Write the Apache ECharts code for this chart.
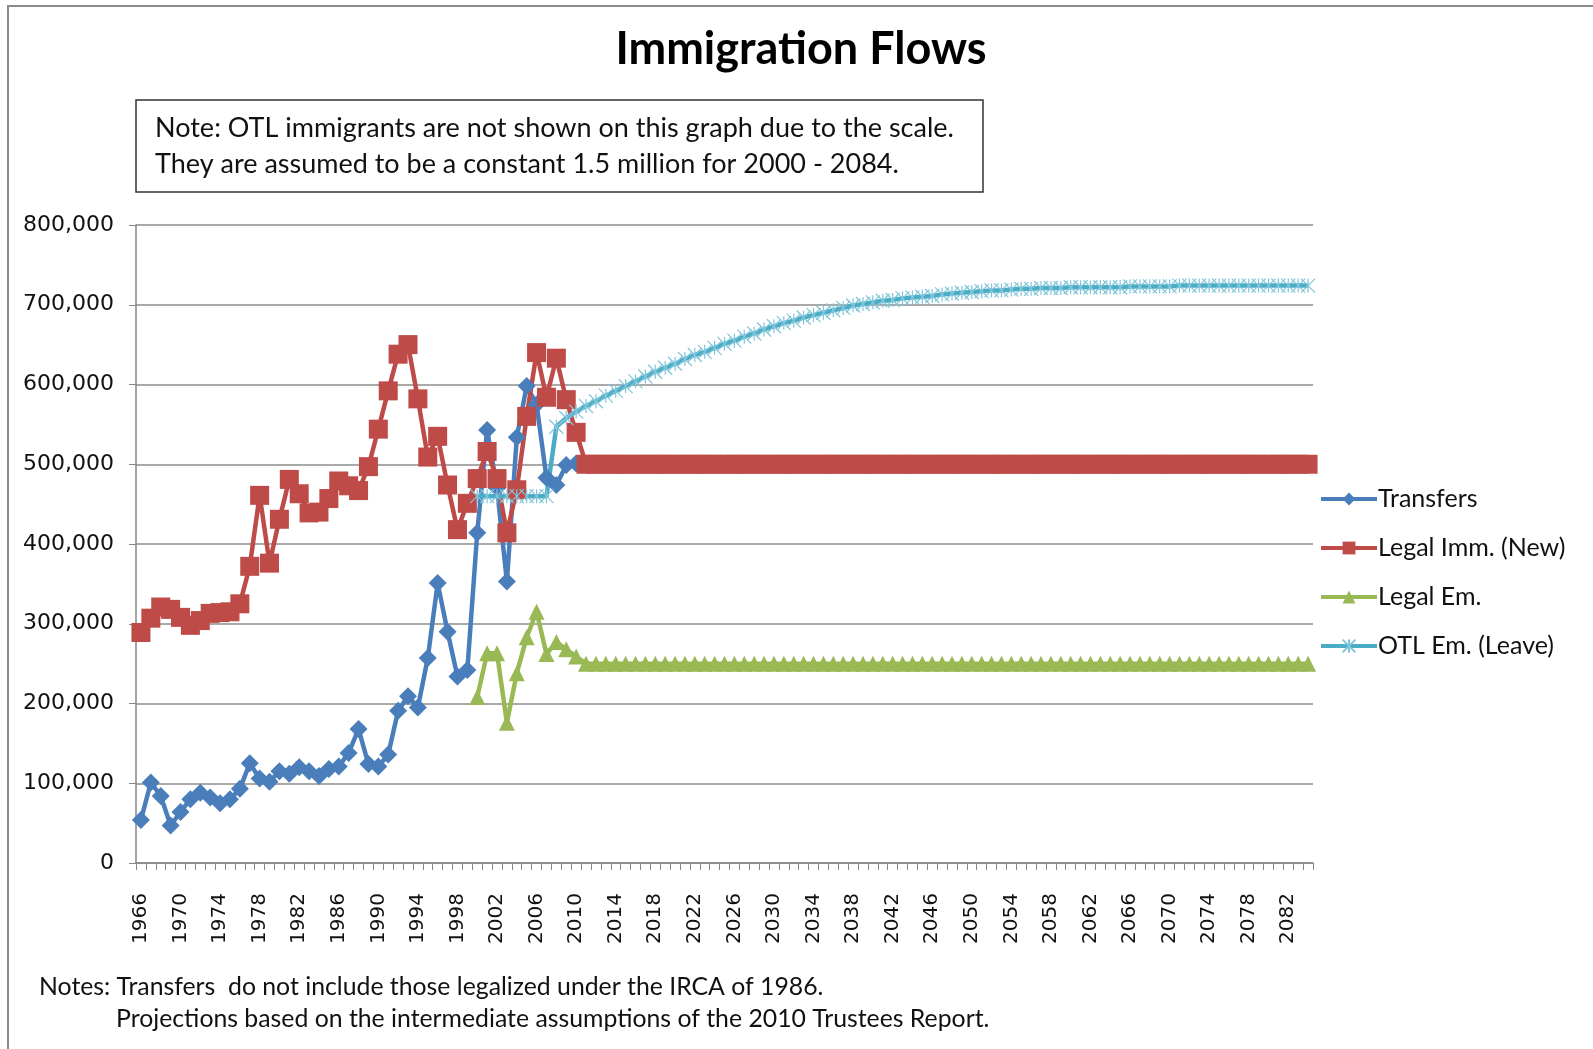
<!DOCTYPE html>
<html>
<head>
<meta charset="utf-8">
<title>Immigration Flows</title>
<script src="https://cdn.jsdelivr.net/npm/echarts@6/dist/echarts.min.js"></script>
<style>
  html, body { margin: 0; padding: 0; background: #fff; }
  #chart { width: 1593px; height: 1049px; }
</style>
</head>
<body>
<div id="chart"></div>
<script>
// years on the category axis
const years = [
  '1966','1967','1968','1969','1970','1971','1972','1973','1974','1975',
  '1976','1977','1978','1979','1980','1981','1982','1983','1984','1985',
  '1986','1987','1988','1989','1990','1991','1992','1993','1994','1995',
  '1996','1997','1998','1999','2000','2001','2002','2003','2004','2005',
  '2006','2007','2008','2009','2010','2011','2012','2013','2014','2015',
  '2016','2017','2018','2019','2020','2021','2022','2023','2024','2025',
  '2026','2027','2028','2029','2030','2031','2032','2033','2034','2035',
  '2036','2037','2038','2039','2040','2041','2042','2043','2044','2045',
  '2046','2047','2048','2049','2050','2051','2052','2053','2054','2055',
  '2056','2057','2058','2059','2060','2061','2062','2063','2064','2065',
  '2066','2067','2068','2069','2070','2071','2072','2073','2074','2075',
  '2076','2077','2078','2079','2080','2081','2082','2083','2084'
]

// Transfers, 1966 - 2010
const transfers = [
  54000, 101000, 84000, 47000, 64000, 80000, 88000, 82000, 75000, 80000,
  93000, 125000, 106000, 102000, 115000, 112000, 120000, 115000, 109000, 118000,
  121000, 138000, 168000, 124000, 121000, 136000, 191000, 209000, 195000, 257000,
  351000, 290000, 234000, 242000, 414000, 543000, 470000, 353000, 534000, 598000,
  575000, 483000, 474000, 499000, 501000
]

// Legal Imm. (New), 1966 - 2084
const legalImm = [
  289000, 307000, 321000, 318000, 308000, 298000, 304000, 313000, 314000, 315000,
  325000, 372000, 461000, 376000, 431000, 481000, 463000, 439000, 440000, 457000,
  479000, 473000, 467000, 497000, 544000, 592000, 638000, 650000, 582000, 509000,
  535000, 474000, 418000, 451000, 482000, 516000, 482000, 414000, 468000, 560000,
  640000, 584000, 633000, 581000, 540000, 500000, 500000, 500000, 500000, 500000,
  500000, 500000, 500000, 500000, 500000, 500000, 500000, 500000, 500000, 500000,
  500000, 500000, 500000, 500000, 500000, 500000, 500000, 500000, 500000, 500000,
  500000, 500000, 500000, 500000, 500000, 500000, 500000, 500000, 500000, 500000,
  500000, 500000, 500000, 500000, 500000, 500000, 500000, 500000, 500000, 500000,
  500000, 500000, 500000, 500000, 500000, 500000, 500000, 500000, 500000, 500000,
  500000, 500000, 500000, 500000, 500000, 500000, 500000, 500000, 500000, 500000,
  500000, 500000, 500000, 500000, 500000, 500000, 500000, 500000, 500000
]

// Legal Em., 2000 - 2084
const legalEm = [
  208000, 263000, 263000, 176000, 238000, 283000, 315000, 262000, 277000, 268000,
  259000, 250000, 250000, 250000, 250000, 250000, 250000, 250000, 250000, 250000,
  250000, 250000, 250000, 250000, 250000, 250000, 250000, 250000, 250000, 250000,
  250000, 250000, 250000, 250000, 250000, 250000, 250000, 250000, 250000, 250000,
  250000, 250000, 250000, 250000, 250000, 250000, 250000, 250000, 250000, 250000,
  250000, 250000, 250000, 250000, 250000, 250000, 250000, 250000, 250000, 250000,
  250000, 250000, 250000, 250000, 250000, 250000, 250000, 250000, 250000, 250000,
  250000, 250000, 250000, 250000, 250000, 250000, 250000, 250000, 250000, 250000,
  250000, 250000, 250000, 250000, 250000
]

// OTL Em. (Leave), 2000 - 2084
const otlEm = [
  460000, 460000, 460000, 460000, 460000, 460000, 460000, 460000, 547000, 558000,
  566000, 573000, 579000, 586000, 592000, 598000, 604000, 610000, 616000, 621000,
  626000, 632000, 637000, 641000, 646000, 651000, 655000, 660000, 664000, 669000,
  673000, 677000, 680000, 684000, 687000, 690000, 693000, 696000, 699000, 701000,
  703000, 705000, 706000, 708000, 709000, 710000, 711000, 713000, 714000, 715000,
  716000, 717000, 718000, 718000, 719000, 720000, 720000, 721000, 721000, 721000,
  722000, 722000, 722000, 722000, 722000, 722000, 723000, 723000, 723000, 723000,
  723000, 724000, 724000, 724000, 724000, 724000, 724000, 724000, 724000, 724000,
  724000, 724000, 724000, 724000, 724000
]

const startIdx = years.indexOf('2000')
function fromIndex(values, idx) {
  return new Array(idx).fill(null).concat(values)
}

const chart = echarts.init(document.getElementById('chart'), null, { renderer: 'canvas' })

const textFont = 'Lato, "Open Sans", sans-serif'
const axisFont = '"DejaVu Sans", Verdana, sans-serif'
const starPath = 'path://M0,0L10,10M10,0L0,10M5,0L5,10'

const option = {
  animation: false,
  backgroundColor: '#fff',
  graphic: [
    {
      type: 'rect',
      shape: { x: 8, y: 6, width: 1700, height: 1200 },
      style: { fill: 'none', stroke: '#8c8c8c', lineWidth: 2 },
      silent: true
    },
    {
      type: 'text',
      x: 801,
      y: 49,
      style: {
        text: 'Immigration Flows',
        font: 'bold 45px ' + textFont,
        fill: '#000',
        textAlign: 'center',
        textVerticalAlign: 'middle'
      }
    },
    {
      type: 'rect',
      shape: { x: 136, y: 100, width: 847, height: 92 },
      style: { fill: '#fff', stroke: '#333', lineWidth: 1.5 }
    },
    {
      type: 'text',
      x: 155,
      y: 128,
      style: {
        text: 'Note: OTL immigrants are not shown on this graph due to the scale.',
        font: '27px ' + textFont,
        fill: '#111',
        textVerticalAlign: 'middle'
      }
    },
    {
      type: 'text',
      x: 155,
      y: 164,
      style: {
        text: 'They are assumed to be a constant 1.5 million for 2000 - 2084.',
        font: '27px ' + textFont,
        fill: '#111',
        textVerticalAlign: 'middle'
      }
    },
    {
      type: 'text',
      x: 39,
      y: 987,
      style: {
        text: 'Notes: Transfers  do not include those legalized under the IRCA of 1986.',
        font: '24.8px ' + textFont,
        fill: '#111',
        textVerticalAlign: 'middle'
      }
    },
    {
      type: 'text',
      x: 116,
      y: 1019,
      style: {
        text: 'Projections based on the intermediate assumptions of the 2010 Trustees Report.',
        font: '24.8px ' + textFont,
        fill: '#111',
        textVerticalAlign: 'middle'
      }
    }
  ],
  legend: {
    orient: 'vertical',
    left: 1319,
    top: 485,
    padding: 0,
    itemWidth: 56,
    itemHeight: 16,
    itemGap: 21,
    lineStyle: { width: 4 },
    textStyle: {
      fontFamily: textFont,
      fontSize: 25,
      color: '#111',
      lineHeight: 28,
      padding: [0, 0, 0, -4]
    },
    data: ['Transfers', 'Legal Imm. (New)', 'Legal Em.', 'OTL Em. (Leave)']
  },
  grid: {
    left: 136,
    right: 280,
    top: 225,
    bottom: 186
  },
  xAxis: {
    type: 'category',
    data: years,
    boundaryGap: true,
    axisLine: { lineStyle: { color: '#868686', width: 1.5 } },
    axisTick: {
      show: true,
      interval: 0,
      length: 7,
      lineStyle: { color: '#868686', width: 1 }
    },
    axisLabel: {
      interval: 3,
      rotate: 90,
      margin: 30,
      fontFamily: axisFont,
      fontSize: 20,
      color: '#111'
    },
    splitLine: { show: false }
  },
  yAxis: {
    type: 'value',
    min: 0,
    max: 800000,
    interval: 100000,
    axisLine: { show: true, lineStyle: { color: '#868686', width: 1.5 } },
    axisTick: { show: true, length: 7, lineStyle: { color: '#868686' } },
    axisLabel: {
      margin: 22,
      fontFamily: axisFont,
      fontSize: 22,
      color: '#111',
      formatter: v => v.toLocaleString('en-US')
    },
    splitLine: { lineStyle: { color: '#8c8c8c', width: 1.5 } }
  },
  series: [
    {
      name: 'Transfers',
      type: 'line',
      data: transfers,
      symbol: 'diamond',
      symbolSize: 18,
      showAllSymbol: true,
      lineStyle: { color: '#4A7EBB', width: 4.5 },
      itemStyle: { color: '#4A7EBB' }
    },
    {
      name: 'Legal Imm. (New)',
      type: 'line',
      data: legalImm,
      symbol: 'rect',
      symbolSize: 19,
      showAllSymbol: true,
      lineStyle: { color: '#BE4B48', width: 4.5 },
      itemStyle: { color: '#BE4B48' }
    },
    {
      name: 'Legal Em.',
      type: 'line',
      data: fromIndex(legalEm, startIdx),
      symbol: 'triangle',
      symbolSize: 16,
      showAllSymbol: true,
      lineStyle: { color: '#98B954', width: 4.5 },
      itemStyle: { color: '#98B954' }
    },
    {
      name: 'OTL Em. (Leave)',
      type: 'line',
      data: fromIndex(otlEm, startIdx),
      symbol: starPath,
      symbolSize: 14,
      showAllSymbol: true,
      lineStyle: { color: '#4BACC6', width: 4.5 },
      itemStyle: { color: '#80c6da', borderColor: '#80c6da', borderWidth: 1.2 }
    }
  ]
}

chart.setOption(option)
</script>
</body>
</html>
